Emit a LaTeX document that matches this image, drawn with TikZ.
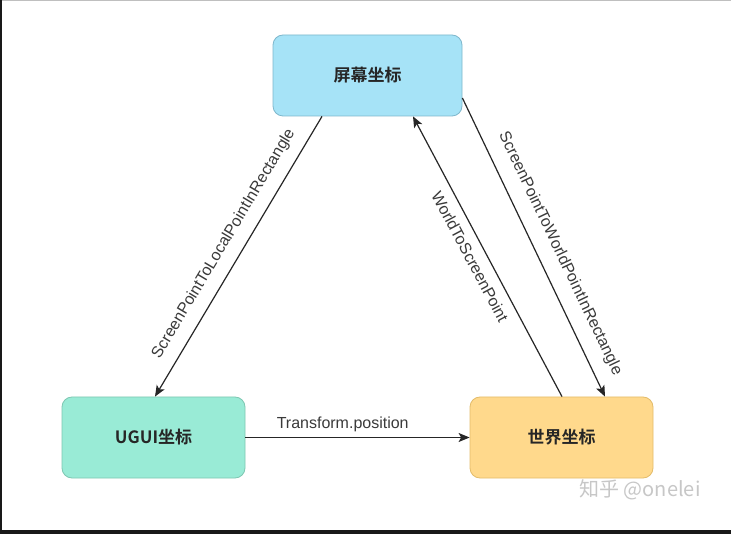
\documentclass[tikz,border=0pt]{standalone}
\usepackage{fontspec}
\setmainfont{Liberation Sans}
\newfontfamily\cjk{Noto Sans CJK SC}[BoldFont={Noto Sans CJK SC Bold}]
\usetikzlibrary{arrows.meta}
\definecolor{bluefill}{HTML}{A6E3F7}
\definecolor{bluedraw}{HTML}{7EB7CC}
\definecolor{greenfill}{HTML}{99EBD6}
\definecolor{greendraw}{HTML}{7EC7B2}
\definecolor{yellowfill}{HTML}{FFD98C}
\definecolor{yellowdraw}{HTML}{E3BC6A}
\definecolor{labelgray}{HTML}{3A3A3A}
\tikzset{
  box/.style={rounded corners=10pt, minimum width=183pt, minimum height=81pt,
    inner sep=0pt, line width=0.8pt, font=\cjk\bfseries\fontsize{17}{20}\selectfont, text=black!85},
  conn/.style={line width=1.2pt, draw=black!85,
    -{Stealth[length=11pt,width=9pt,inset=2.5pt]}},
  lbl/.style={font=\fontsize{16}{19}\selectfont, text=labelgray, inner sep=2pt}
}
\begin{document}
\begin{tikzpicture}[x=1pt,y=-1pt]
\useasboundingbox (0,0) rectangle (731,534);
\fill[white] (0,0) rectangle (731,534);
% screen borders
\fill[black!25] (0,0) rectangle (731,1.5);
\fill[black!90] (0,0) rectangle (2,534);
\fill[black!90] (0,530) rectangle (731,534);

\node[box, fill=bluefill, draw=bluedraw, minimum width=189pt] (scr) at (367.5,75.5) {屏幕坐标};
\node[box, fill=greenfill, draw=greendraw] (ugui) at (153.5,437.5) {UGUI坐标};
\node[box, fill=yellowfill, draw=yellowdraw] (world) at (561.5,437.5) {世界坐标};

\draw[conn] ([xshift=-45.5pt]scr.south) -- ([xshift=1.5pt]ugui.north)
  node[lbl, pos=0.49, sloped, above=9pt] {ScreenPointToLocalPointInRectangle};
\draw[conn] ([xshift=0.5pt]world.north) -- ([xshift=45.5pt]scr.south)
  node[lbl, pos=0.525, sloped, below=7pt] {WorldToScreenPoint};
\draw[conn] ([yshift=-22.5pt]scr.east) -- ([xshift=43.5pt]world.north)
  node[lbl, pos=0.552, sloped, above=11pt] {ScreenPointToWorldPointInRectangle};
\draw[conn] (ugui.east) -- (world.west)
  node[lbl, pos=0.434, above=3pt] {Transform.position};

\node[font=\cjk\fontsize{20}{24}\selectfont, text=black!22, inner sep=0pt] (wm) at (640,490) {知乎 @onelei};
\end{tikzpicture}
\end{document}
